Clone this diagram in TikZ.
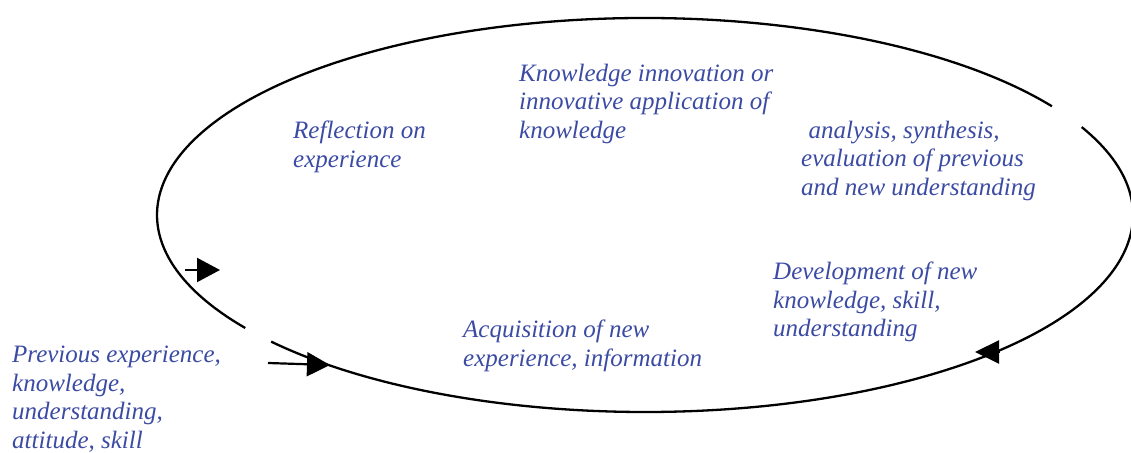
\documentclass[tikz,border=0pt]{standalone}
\usepackage{fontspec}
\setmainfont{Liberation Serif}
\usetikzlibrary{arrows.meta}
\definecolor{txtblue}{RGB}{59,75,163}
\tikzset{
  lbl/.style={anchor=north west, inner sep=0pt, align=left, text=txtblue,
    font=\fontsize{25}{28.6}\selectfont\itshape},
  ring/.style={line width=2.3pt, black},
  feed/.style={line width=2.2pt, black, -{Triangle[length=23pt,width=24pt]}}
}
\begin{document}
\begin{tikzpicture}[x=1pt,y=1pt]
\useasboundingbox (0,0) rectangle (1131,452);
% ellipse with two gaps, centre (645,237), radii 488 x 197
\coordinate (c) at (645,237);
\draw[ring] (c) ++(33.5:488 and 197) arc[start angle=33.5, end angle=215, x radius=488, y radius=197];
\draw[ring] (c) ++(220:488 and 197) arc[start angle=220, end angle=386.5, x radius=488, y radius=197];
% arrows
\coordinate (la0) at (185,182);
\coordinate (la1) at (220,182);
\draw[feed] (la0) -- (la1);
\coordinate (ba0) at (268,89);
\coordinate (ba1) at (330,87);
\draw[feed] (ba0) -- (ba1);
\coordinate (ra0) at (1000,100);
\coordinate (ra1) at (975,100);
\draw[feed,-{Triangle[length=24pt,width=23pt]}] (ra0) -- (ra1);
% labels
\node[lbl] (kn) at (519,388.2) {Knowledge innovation or\\innovative application of\\knowledge};
\node[lbl] (re) at (293,331.2) {Reflection on\\experience};
\node[lbl] (an) at (801,331.2) {\hspace*{0.3em}analysis, synthesis,\\evaluation of previous\\and new understanding};
\node[lbl] (de) at (773,190.2) {Development of new\\knowledge, skill,\\understanding};
\node[lbl] (ac) at (463,132.2) {Acquisition of new\\experience, information};
\node[lbl] (pr) at (12,106.2) {Previous experience,\\knowledge,\\understanding,\\attitude, skill};
\end{tikzpicture}
\end{document}
